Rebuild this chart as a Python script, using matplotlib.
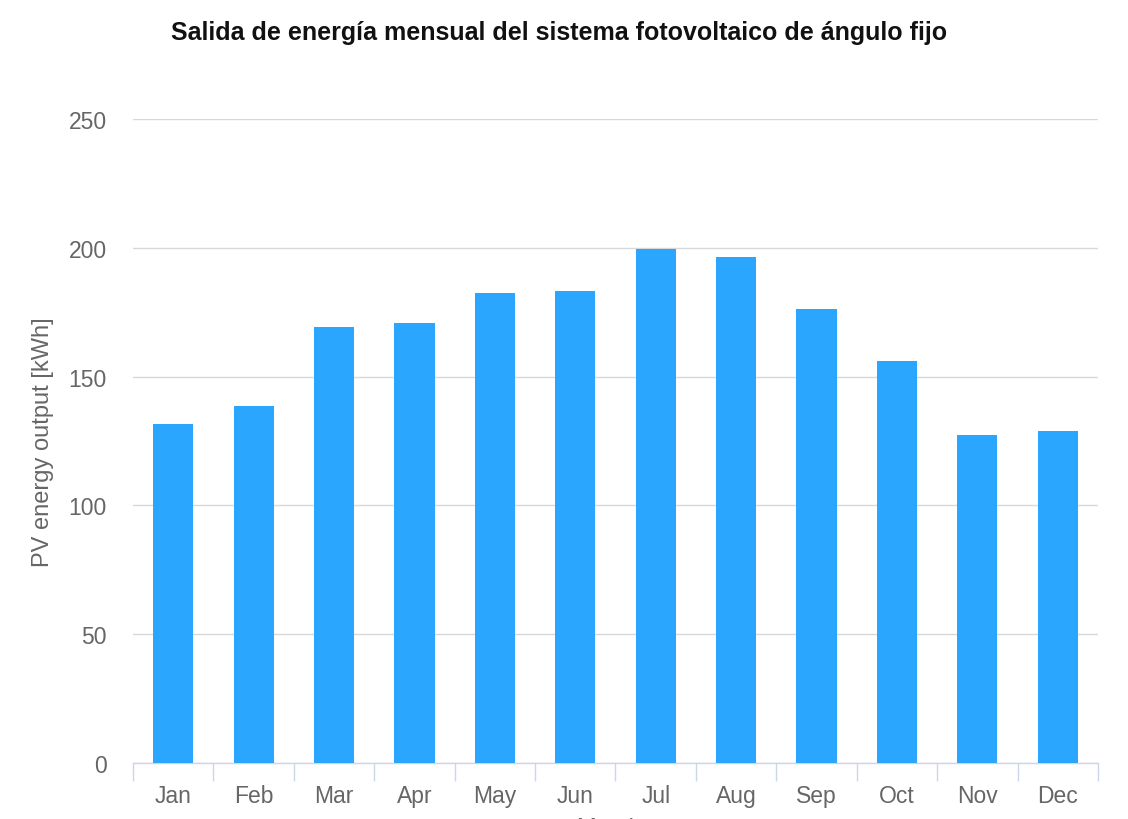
import numpy as np
import matplotlib.pyplot as plt

months = ['Jan', 'Feb', 'Mar', 'Apr', 'May', 'Jun', 'Jul', 'Aug', 'Sep', 'Oct', 'Nov', 'Dec']
energy = [131.6, 138.6, 169.3, 170.8, 182.5, 183.2, 199.5, 196.4, 176.2, 156.1, 127.3, 128.9]
yticks = [0, 50, 100, 150, 200, 250]

plt.rcParams['font.family'] = ['Liberation Sans', 'DejaVu Sans']

fig = plt.figure(figsize=(11.28, 8.2), dpi=100)
ax = fig.add_axes([0.1179, 0.0683, 0.8555, 0.7854])

x = np.arange(len(months))
ax.bar(x, energy, width=0.5, color='#2ba6ff', zorder=3)

ax.set_xlim(-0.5, len(months) - 0.5)
ax.set_ylim(0, 250)
ax.set_yticks(yticks)
ax.set_yticklabels([str(v) for v in yticks])
ax.set_xticks(x)
ax.set_xticklabels(months)
ax.grid(axis='y', color='#d8d8d8', lw=1, zorder=0)

# category boundary ticks
ax.set_xticks(np.arange(-0.5, len(months)), minor=True)
ax.tick_params(axis='x', which='major', length=0, pad=15, labelsize=16.5, labelcolor='#666666')
ax.tick_params(axis='x', which='minor', length=13, color='#ccd6eb', width=1)
ax.tick_params(axis='y', length=0, pad=19, labelsize=16.5, labelcolor='#666666')

for s in ['top', 'right', 'left']:
    ax.spines[s].set_visible(False)
ax.spines['bottom'].set_color('#ccd6eb')
ax.spines['bottom'].set_linewidth(1)

ax.set_ylabel('PV energy output [kWh]', fontsize=17, color='#666666', labelpad=10)

fig.text(0.496, 0.96, 'Salida de energía mensual del sistema fotovoltaico de ángulo fijo',
         ha='center', va='center', fontsize=18, fontweight='bold', color='#111111')
# x axis title sits mostly below the visible canvas, as in the reference
fig.text(0.54, 0.003, 'Month', ha='center', va='top', fontsize=17, color='#666666')

fig.savefig('out.png', dpi=100)
